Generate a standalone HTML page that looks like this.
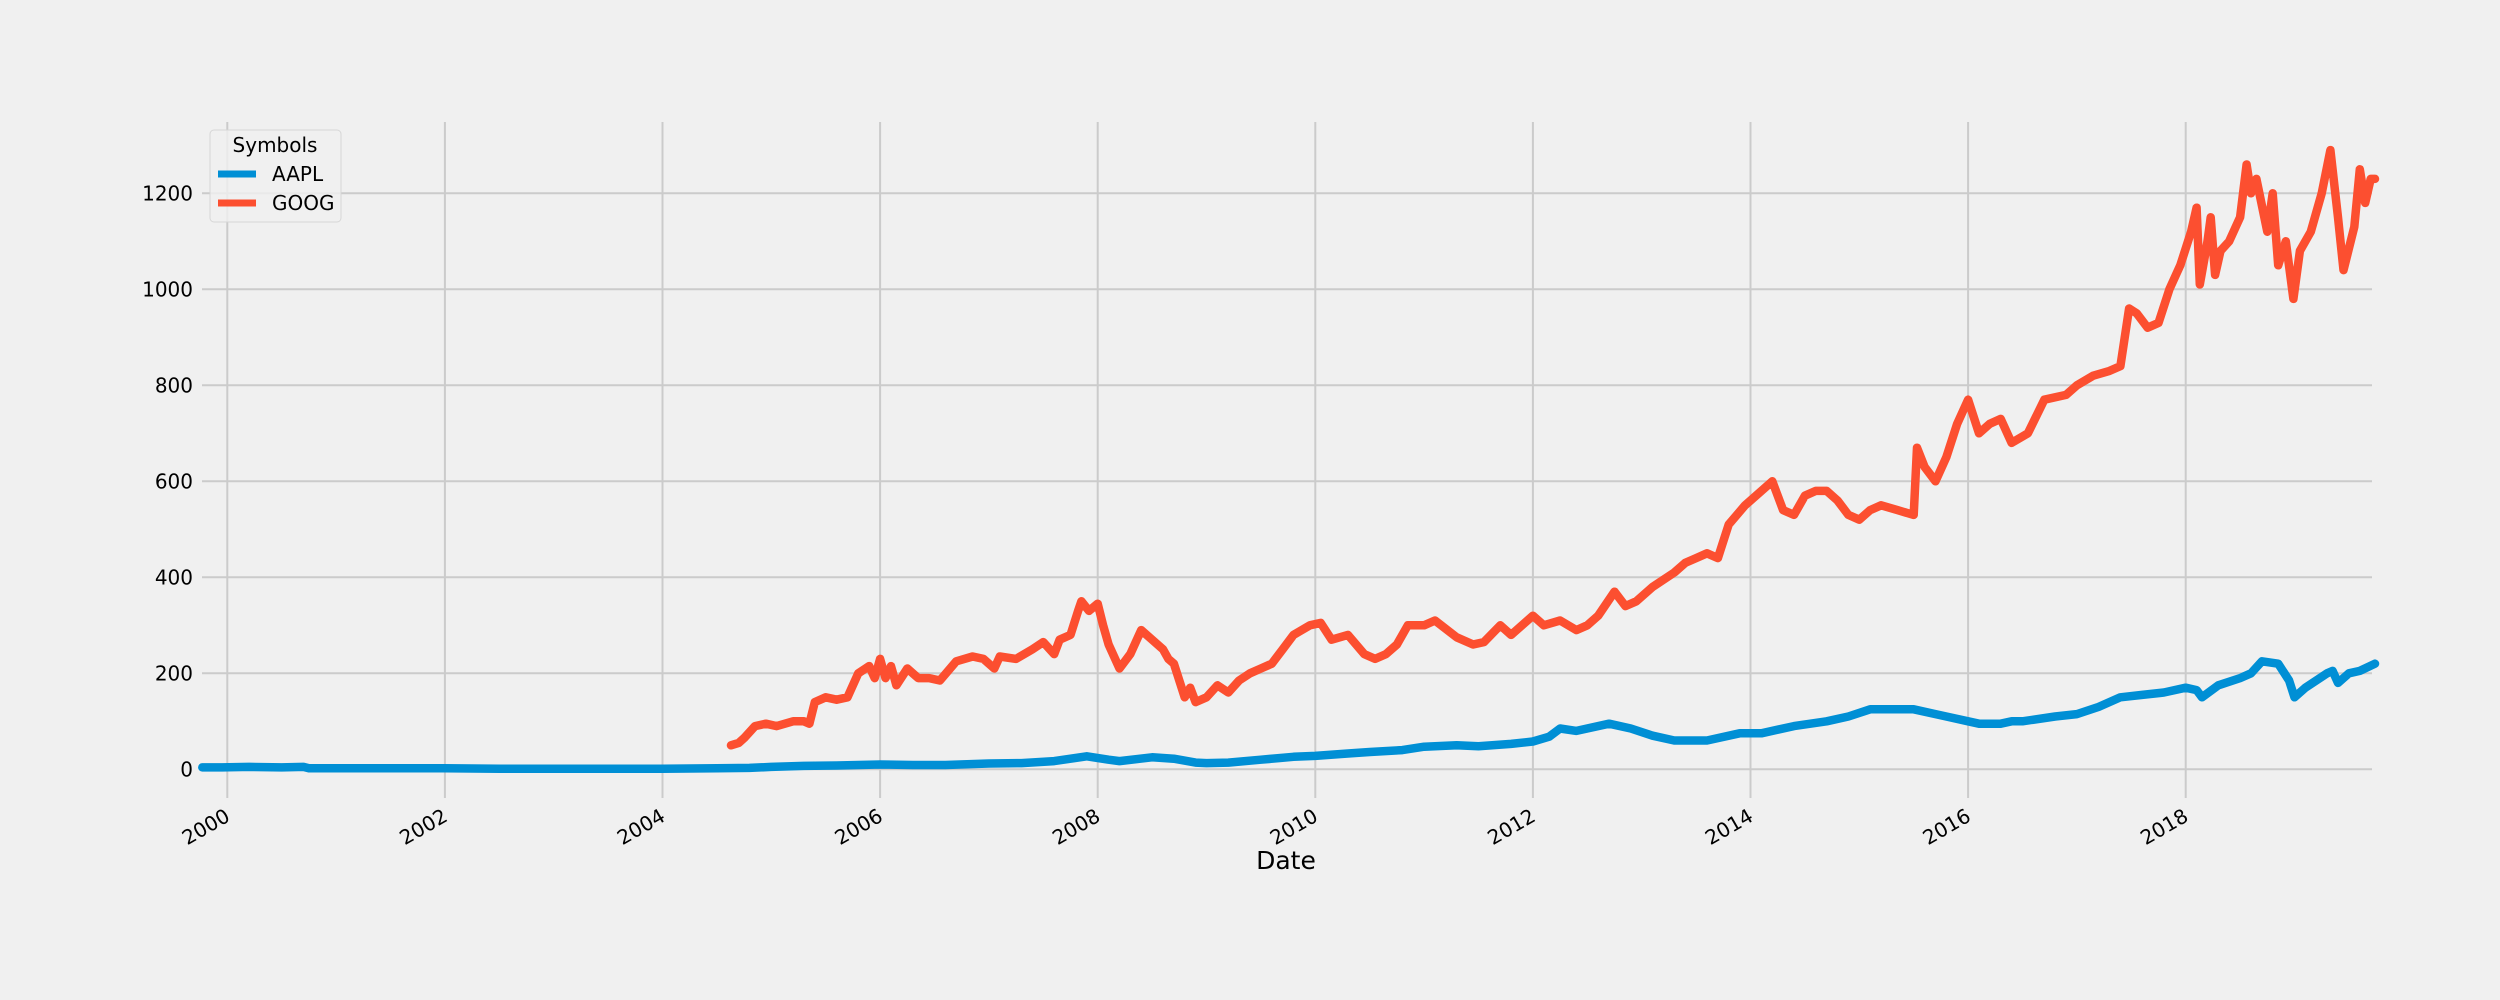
<!DOCTYPE html>
<html><head><meta charset="utf-8"><style>
html,body{margin:0;padding:0;background:#f0f0f0}
svg{display:block;font-family:"DejaVu Sans","Liberation Sans",sans-serif}
</style></head><body>
<svg id="chart" width="2500" height="1000" viewBox="0 0 2500 1000">
<rect width="2500" height="1000" fill="#f0f0f0"/>
<g id="grid"></g>
<g id="ticks"></g>
<g id="series"></g>
<text x="1286" y="869" font-size="25" text-anchor="middle" fill="#000">Date</text>
<g>
<rect x="210" y="130" width="131" height="92" rx="4" fill="#f0f0f0" fill-opacity="0.8" stroke="#d6d6d6"/>
<text x="275" y="152" font-size="20" text-anchor="middle">Symbols</text>
<g><line x1="218" y1="174" x2="256" y2="174" stroke="#008fd5" stroke-width="7"/><text x="272" y="181" font-size="20">AAPL</text></g>
<g><line x1="218" y1="203" x2="256" y2="203" stroke="#fc4f30" stroke-width="7"/><text x="272" y="210" font-size="20">GOOG</text></g>
</g>
</svg>
<script>
const xTickYears=[2000,2002,2004,2006,2008,2010,2012,2014,2016,2018];
const yTickValues=[0,200,400,600,800,1000,1200];
const aaplDates=[1999.77,1999.95,2000.2,2000.5,2000.7,2000.75,2001.0,2001.5,2002.0,2002.5,2003.0,2003.5,2004.0,2004.5,2004.8,2005.0,2005.3,2005.6,2006.0,2006.3,2006.6,2007.0,2007.3,2007.6,2007.9,2008.1,2008.2,2008.5,2008.7,2008.9,2009.0,2009.2,2009.5,2009.8,2010.0,2010.3,2010.5,2010.8,2011.0,2011.3,2011.5,2011.8,2012.0,2012.15,2012.25,2012.4,2012.7,2012.9,2013.1,2013.3,2013.6,2013.9,2014.1,2014.4,2014.7,2014.9,2015.1,2015.2,2015.5,2015.7,2015.8,2016.0,2016.1,2016.3,2016.4,2016.5,2016.8,2017.0,2017.2,2017.4,2017.6,2017.8,2018.0,2018.1,2018.15,2018.3,2018.5,2018.6,2018.7,2018.85,2018.95,2019.0,2019.1,2019.3,2019.35,2019.4,2019.5,2019.6,2019.74];
const aaplValues=[4,4,5,4,5,2,2,2,2,1,1,1,1,2,3,5,7,8,10,9,9,12,13,17,27,20,17,25,22,14,13,14,20,26,28,33,36,40,47,50,48,53,58,68,85,80,95,85,70,60,60,75,75,90,100,110,125,125,125,115,110,100,95,95,100,100,110,115,130,150,155,160,170,165,150,175,190,200,225,220,185,150,170,200,205,180,200,205,220];
const googDates=[2004.63,2004.7,2004.75,2004.85,2004.95,2005.05,2005.2,2005.3,2005.35,2005.4,2005.5,2005.6,2005.7,2005.8,2005.9,2005.95,2006.0,2006.05,2006.1,2006.15,2006.25,2006.35,2006.45,2006.55,2006.7,2006.85,2006.95,2007.05,2007.1,2007.25,2007.4,2007.5,2007.6,2007.65,2007.75,2007.82,2007.85,2007.92,2008.0,2008.05,2008.1,2008.2,2008.3,2008.4,2008.5,2008.6,2008.65,2008.7,2008.8,2008.85,2008.9,2009.0,2009.1,2009.2,2009.3,2009.4,2009.5,2009.6,2009.7,2009.8,2009.95,2010.05,2010.15,2010.3,2010.45,2010.55,2010.65,2010.75,2010.85,2011.0,2011.1,2011.3,2011.45,2011.55,2011.7,2011.8,2011.9,2012.0,2012.1,2012.25,2012.4,2012.5,2012.6,2012.75,2012.85,2012.95,2013.1,2013.3,2013.4,2013.5,2013.6,2013.7,2013.8,2013.95,2014.1,2014.2,2014.3,2014.4,2014.5,2014.6,2014.7,2014.8,2014.9,2015.0,2015.1,2015.2,2015.35,2015.5,2015.53,2015.6,2015.7,2015.8,2015.9,2016.0,2016.1,2016.2,2016.3,2016.4,2016.55,2016.7,2016.9,2017.0,2017.15,2017.3,2017.4,2017.48,2017.55,2017.65,2017.75,2017.85,2017.95,2018.05,2018.1,2018.13,2018.2,2018.23,2018.27,2018.32,2018.4,2018.5,2018.56,2018.6,2018.65,2018.75,2018.8,2018.85,2018.92,2018.99,2019.05,2019.15,2019.25,2019.33,2019.4,2019.45,2019.55,2019.6,2019.65,2019.7,2019.74];
const googValues=[50,55,65,90,95,90,100,100,95,140,150,145,150,200,215,190,230,190,215,175,210,190,190,185,225,235,230,210,235,230,250,265,240,270,280,330,350,330,345,300,260,210,240,290,270,250,230,220,150,170,140,150,175,160,185,200,210,220,250,280,300,305,270,280,240,230,240,260,300,300,310,275,260,265,300,280,300,320,300,310,290,300,320,370,340,350,380,410,430,440,450,440,510,550,580,600,540,530,570,580,580,560,530,520,540,550,540,530,670,630,600,650,720,770,700,720,730,680,700,770,780,800,820,830,840,960,950,920,930,1000,1050,1120,1170,1010,1100,1150,1030,1080,1100,1150,1260,1200,1230,1120,1200,1050,1100,980,1080,1120,1200,1290,1150,1040,1130,1250,1180,1230,1230];

const NS='http://www.w3.org/2000/svg';
const x0=227.3, pxPerYear=108.8, y0=769.3, pxPerUnit=0.48;
const plotLeft=202, plotRight=2372, plotTop=122, plotBottom=798;
function xScale(yr){return x0+(yr-2000)*pxPerYear;}
function yScale(v){return y0-v*pxPerUnit;}
function mk(tag,attrs,parent){const e=document.createElementNS(NS,tag);for(const k in attrs)e.setAttribute(k,attrs[k]);parent.appendChild(e);return e;}
const grid=document.getElementById('grid'),ticks=document.getElementById('ticks'),series=document.getElementById('series');
yTickValues.forEach(v=>{
  const l=mk('line',{x1:plotLeft,x2:plotRight,y1:yScale(v),y2:yScale(v),stroke:'#cbcbcb','stroke-width':2},grid);
  
  
  const t=mk('text',{x:193,y:yScale(v)+7,'font-size':20,'text-anchor':'end',fill:'#000'},ticks);
  t.textContent=v;
  
  
});
xTickYears.forEach(yr=>{
  const x=xScale(yr);
  const l=mk('line',{x1:x,x2:x,y1:plotTop,y2:plotBottom,stroke:'#cbcbcb','stroke-width':2},grid);
  
  
  const t=mk('text',{x:x+4,y:820,'font-size':20,'text-anchor':'end',fill:'#000',transform:'rotate(-30 '+(x+4)+' 820)'},ticks);
  t.textContent=yr;
  
  
});
function drawLine(dates,vals,color,name){
  const n=Math.min(dates.length,vals.length);
  let d='';
  for(let i=0;i<n;i++){d+=(i?' L':'M')+xScale(dates[i]).toFixed(1)+' '+yScale(vals[i]).toFixed(1);}
  const p=mk('path',{d:d,fill:'none',stroke:color,'stroke-width':8.5,'stroke-linejoin':'round','stroke-linecap':'round'},series);
  
  
}
drawLine(aaplDates,aaplValues,'#008fd5','aapl-line');
drawLine(googDates,googValues,'#fc4f30','goog-line');
</script>
</body></html>
